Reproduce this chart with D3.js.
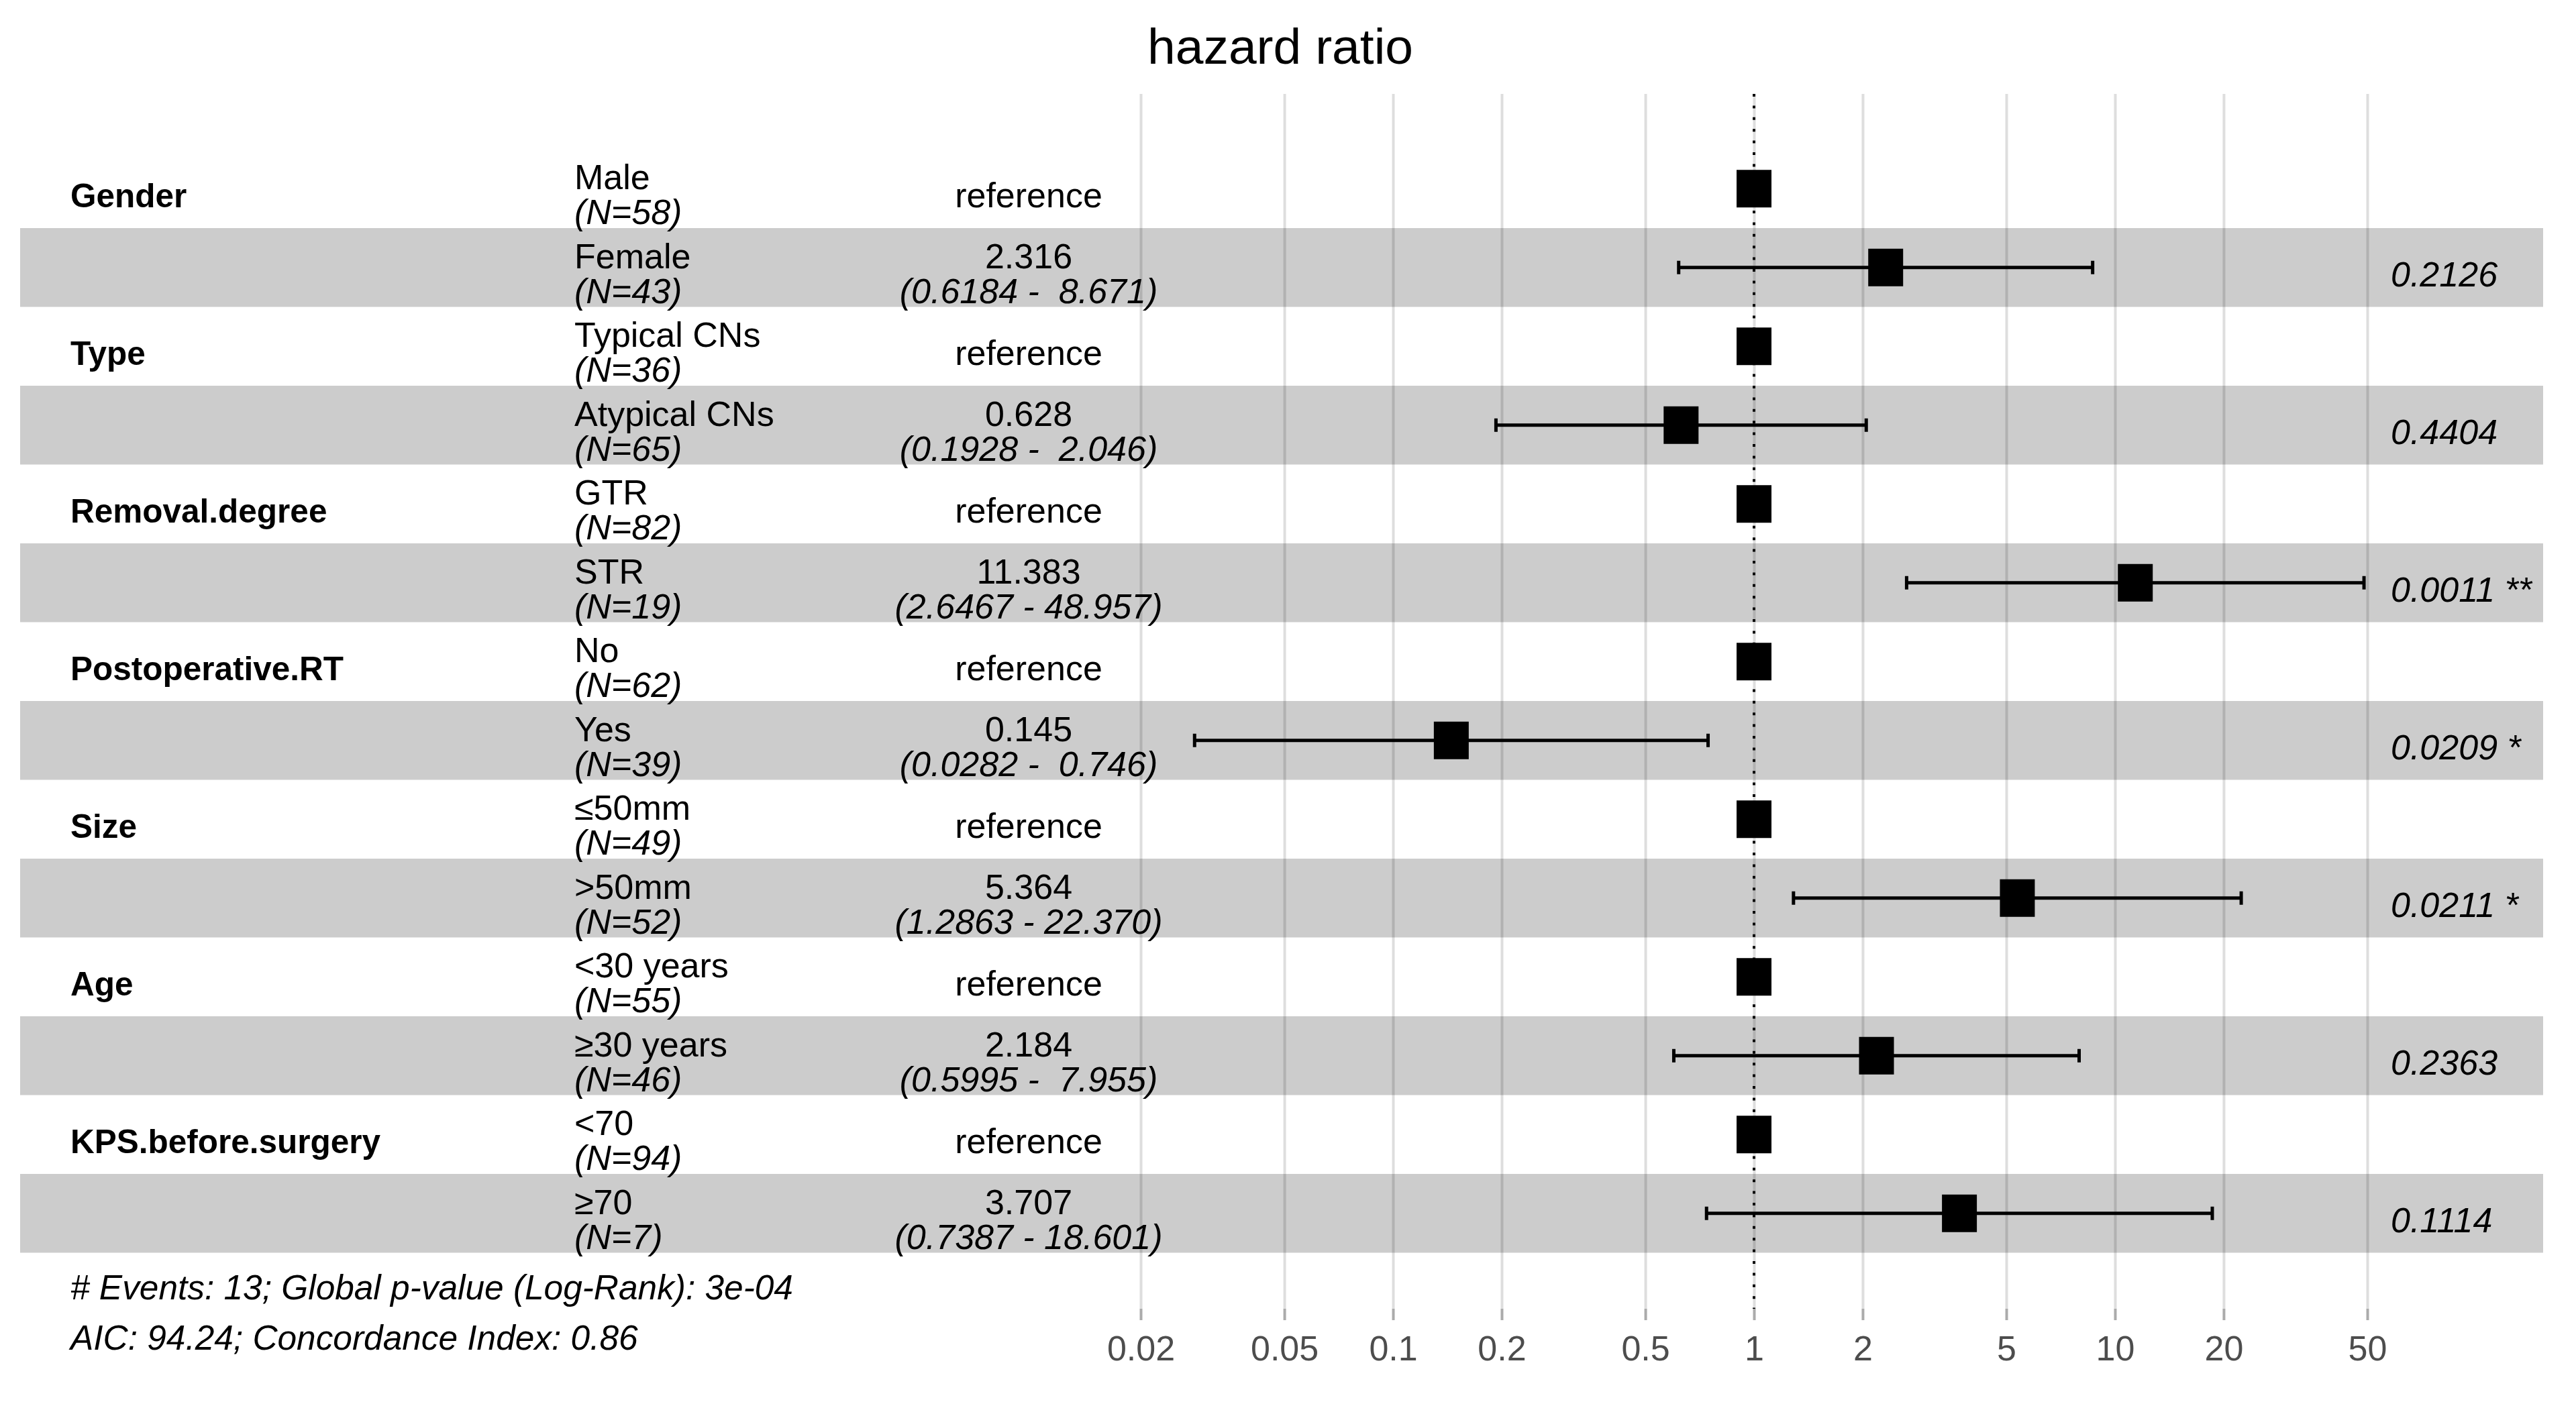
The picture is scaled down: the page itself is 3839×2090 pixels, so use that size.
<!DOCTYPE html>
<html>
<head>
  <meta charset="utf-8">
  <script src="https://cdn.jsdelivr.net/npm/d3@7"></script>
  <style type="text/css">
    body {
      margin: 0;
      background: #fff;
    }
    svg text {
      font-family: "Liberation Sans", Arial, sans-serif;
      white-space: pre;
    }
    .grid line { stroke: #dedede; stroke-width: 4; }
    .grid path, .axis path { display: none; }
    .axis line { stroke: #ababab; stroke-width: 4; }
    .axis text { fill: #4d4d4d; font-size: 52px; }
  </style>
</head>
<body>
  <script type="text/javascript">

  const W = 3839, H = 2090;

  // table data, one entry per row (two levels per variable)
  const variables = ['Gender', 'Type', 'Removal.degree', 'Postoperative.RT', 'Size', 'Age', 'KPS.before.surgery'];
  const levels = ['Male', 'Female', 'Typical CNs', 'Atypical CNs', 'GTR', 'STR', 'No', 'Yes',
                  '≤50mm', '>50mm', '<30 years', '≥30 years', '<70', '≥70'];
  const counts = [58, 43, 36, 65, 82, 19, 62, 39, 49, 52, 55, 46, 94, 7];
  // null = reference level
  const hazardRatio = [null, 2.316, null, 0.628, null, 11.383, null, 0.145, null, 5.364, null, 2.184, null, 3.707];
  const ciLower = [null, 0.6184, null, 0.1928, null, 2.6467, null, 0.0282, null, 1.2863, null, 0.5995, null, 0.7387];
  const ciUpper = [null, 8.671, null, 2.046, null, 48.957, null, 0.746, null, 22.370, null, 7.955, null, 18.601];
  const pValues = [null, 0.2126, null, 0.4404, null, 0.0011, null, 0.0209, null, 0.0211, null, 0.2363, null, 0.1114];

  const tickValues = [0.02, 0.05, 0.1, 0.2, 0.5, 1, 2, 5, 10, 20, 50];
  const footer = ['# Events: 13; Global p-value (Log-Rank): 3e-04',
                  'AIC: 94.24; Concordance Index: 0.86'];

  const panelTop = 140, panelBottom = 1951;
  const tableTop = 222.5, tableBottom = 1867.5;

  const svg = d3.select('body').append('svg')
    .attr('width', W)
    .attr('height', H);

  // scales
  const x = d3.scaleLog().domain([0.02, 50]).range([1700, 3528]);
  const y = d3.scaleBand().domain(d3.range(levels.length)).range([tableTop, tableBottom]);
  const mid = i => y(i) + y.bandwidth() / 2;

  // vertical gridlines
  svg.append('g')
    .attr('class', 'grid')
    .attr('transform', `translate(0,${panelBottom})`)
    .call(d3.axisBottom(x).tickValues(tickValues).tickSize(-(panelBottom - panelTop)).tickFormat(''));

  // shaded rows (every second row)
  svg.append('g').selectAll('rect')
    .data(d3.range(levels.length).filter(i => i % 2 === 1))
    .join('rect')
    .attr('x', 30)
    .attr('width', 3790 - 30)
    .attr('y', i => y(i))
    .attr('height', y.bandwidth())
    .attr('fill', '#000')
    .attr('fill-opacity', 0.2);

  // axis ticks + labels
  svg.append('g')
    .attr('class', 'axis')
    .attr('transform', `translate(0,${panelBottom})`)
    .call(d3.axisBottom(x).tickValues(tickValues).tickSize(17).tickPadding(23).tickFormat(d => String(d)));

  // reference line at 1
  svg.append('line')
    .attr('x1', x(1)).attr('x2', x(1))
    .attr('y1', panelTop).attr('y2', panelBottom)
    .attr('stroke', '#000')
    .attr('stroke-width', 4)
    .attr('stroke-dasharray', '4 13.4');

  // confidence intervals
  const ciRows = d3.range(levels.length).filter(i => hazardRatio[i] !== null);
  const ci = svg.append('g').attr('stroke', '#000').attr('stroke-width', 5);
  ci.selectAll('line.ci')
    .data(ciRows)
    .join('line')
    .attr('x1', i => x(ciLower[i])).attr('x2', i => x(ciUpper[i]))
    .attr('y1', mid).attr('y2', mid);
  ci.selectAll('line.capl')
    .data(ciRows.flatMap(i => [[i, ciLower[i]], [i, ciUpper[i]]]))
    .join('line')
    .attr('x1', d => x(d[1])).attr('x2', d => x(d[1]))
    .attr('y1', d => mid(d[0]) - 10).attr('y2', d => mid(d[0]) + 10);

  // point estimates
  svg.append('g').selectAll('rect')
    .data(d3.range(levels.length))
    .join('rect')
    .attr('x', i => x(hazardRatio[i] === null ? 1 : hazardRatio[i]) - 26)
    .attr('y', i => mid(i) - 28)
    .attr('width', 52)
    .attr('height', 56)
    .attr('fill', '#000');

  // table text
  const fs = 52;
  const txt = svg.append('g').attr('font-size', fs).attr('fill', '#000');

  txt.selectAll('text.var')
    .data(variables)
    .join('text')
    .attr('class', 'var')
    .attr('x', 105)
    .attr('y', (d, k) => mid(k * 2) + 28)
    .attr('font-weight', 'bold')
    .attr('font-size', 49.5)
    .text(d => d);

  const lev = txt.selectAll('text.lev')
    .data(levels)
    .join('text')
    .attr('class', 'lev')
    .attr('x', 856)
    .attr('y', (d, i) => mid(i) + 1);
  lev.append('tspan').text(d => d);
  lev.append('tspan')
    .attr('x', 856).attr('dy', 52)
    .attr('font-style', 'italic')
    .text((d, i) => `(N=${counts[i]})`);

  const est = txt.selectAll('text.est')
    .data(d3.range(levels.length))
    .join('text')
    .attr('class', 'est')
    .attr('x', 1533)
    .attr('text-anchor', 'middle')
    .attr('y', i => hazardRatio[i] === null ? mid(i) + 28 : mid(i) + 1);
  est.append('tspan')
    .text(i => hazardRatio[i] === null ? 'reference' : hazardRatio[i].toFixed(3));
  est.filter(i => hazardRatio[i] !== null).append('tspan')
    .attr('x', 1533).attr('dy', 52)
    .attr('font-style', 'italic')
    .text(i => `(${ciLower[i].toFixed(4)} - ${ciUpper[i].toFixed(3).padStart(6, ' ')})`);

  const stars = p => p < 0.001 ? ' ***' : p < 0.01 ? ' **' : p < 0.05 ? ' *' : '';
  txt.selectAll('text.pv')
    .data(ciRows)
    .join('text')
    .attr('class', 'pv')
    .attr('x', 3563)
    .attr('y', i => mid(i) + 28)
    .attr('font-style', 'italic')
    .text(i => pValues[i].toFixed(4) + stars(pValues[i]));

  // footer
  svg.append('g').selectAll('text')
    .data(footer)
    .join('text')
    .attr('x', 105)
    .attr('y', (d, i) => 1937 + i * 75)
    .attr('font-size', 51.4)
    .attr('font-style', 'italic')
    .text(d => d);

  // title
  svg.append('text')
    .attr('x', 1908)
    .attr('y', 95)
    .attr('text-anchor', 'middle')
    .attr('font-size', 75)
    .text('hazard ratio');

  </script>
</body>
</html>
